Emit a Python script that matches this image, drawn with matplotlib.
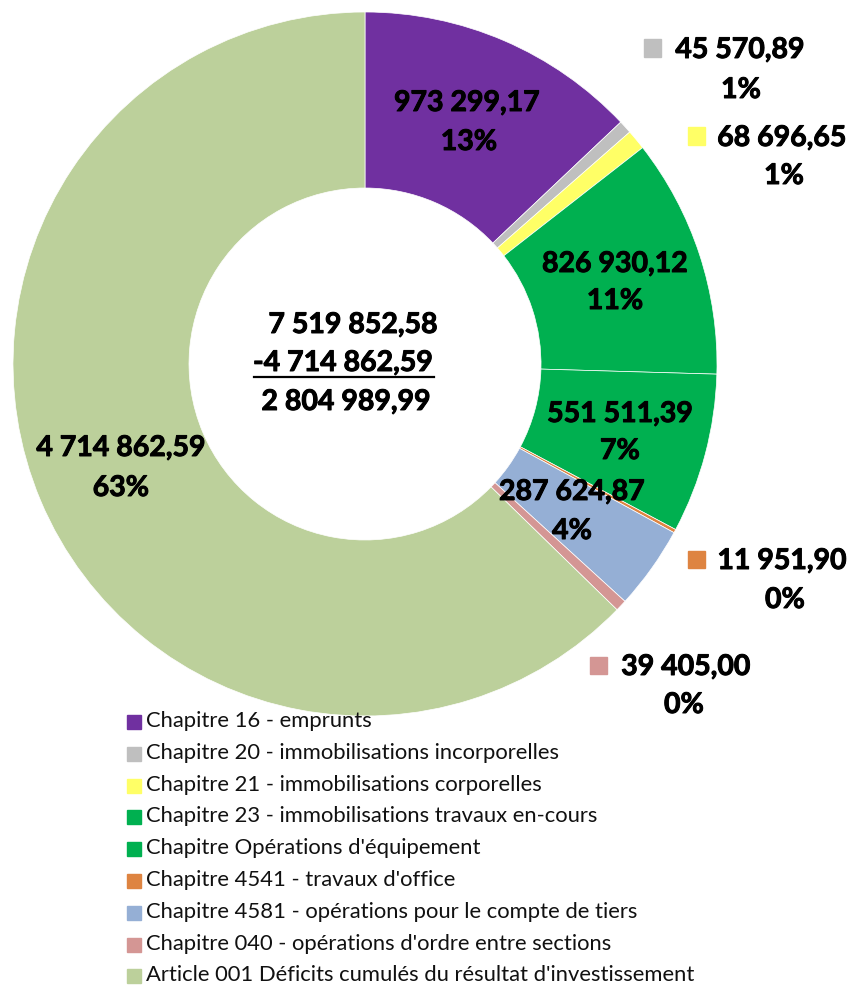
import matplotlib
matplotlib.use("Agg")
import matplotlib.pyplot as plt
import matplotlib.patheffects as pe
from matplotlib.patches import Rectangle

# data
categories = [
    "Chapitre 16 - emprunts",
    "Chapitre 20 - immobilisations incorporelles",
    "Chapitre 21 - immobilisations corporelles",
    "Chapitre 23 - immobilisations travaux en-cours",
    "Chapitre Opérations d'équipement",
    "Chapitre 4541 - travaux d'office",
    "Chapitre 4581 - opérations pour le compte de tiers",
    "Chapitre 040 - opérations d'ordre entre sections",
    "Article 001 Déficits cumulés du résultat d'investissement",
]
values = [973299.17, 45570.89, 68696.65, 826930.12, 551511.39,
          11951.90, 287624.87, 39405.00, 4714862.59]
value_labels = ["973 299,17", "45 570,89", "68 696,65", "826 930,12", "551 511,39",
                "11 951,90", "287 624,87", "39 405,00", "4 714 862,59"]
pct_labels = ["13%", "1%", "1%", "11%", "7%", "0%", "4%", "0%", "63%"]
colors = ["#7030A0", "#BFBFBF", "#FFFF66", "#00B050", "#00B050",
          "#DE8441", "#95AFD5", "#D49694", "#BCD09B"]
center_lines = ["7 519 852,58", "-4 714 862,59", "2 804 989,99"]

W, H = 854, 986
fig = plt.figure(figsize=(W / 100, H / 100), dpi=100)
fig.patch.set_facecolor("white")

def fx(x):
    return x / W

def fy(y):
    return 1 - y / H

# donut: centre (365, 364), outer radius 352
cx, cy, r = 365, 364, 352
ax = fig.add_axes([fx(cx - r), fy(cy + r), 2 * r / W, 2 * r / H])
wedges, _ = ax.pie(values, colors=colors, startangle=90, counterclock=False,
                   radius=1, wedgeprops=dict(width=0.5, linewidth=0.5, edgecolor="white"))
ax.set_xlim(-1, 1)
ax.set_ylim(-1, 1)
ax.set_aspect("equal")
ax.axis("off")

font = "Lato"
thick = [pe.withStroke(linewidth=0.7, foreground="black")]
lbl = dict(fontsize=20.5, fontweight="bold", family=font, ha="center", va="center",
           color="black", path_effects=thick)

# label centres in pixels (value line, percent line)
pos = [((467, 103), (469, 142)),
       ((740, 50), (741, 90)),
       ((782, 138), (784, 176)),
       ((615, 264), (615, 301)),
       ((620, 414), (620, 451)),
       ((782, 561), (785, 600)),
       ((572, 492), (572, 531)),
       ((686, 667), (684, 705)),
       ((121, 448), (121, 488))]
markers = {1: (653, 48), 2: (697, 136), 5: (697, 559), 7: (598, 665)}

for i, ((vx, vy), (px, py)) in enumerate(pos):
    fig.text(fx(vx), fy(vy), value_labels[i], **lbl)
    fig.text(fx(px), fy(py), pct_labels[i], **lbl)
    if i in markers:
        mx, my = markers[i]
        fig.add_artist(Rectangle((fx(mx - 8.5), fy(my + 8.5)), 17 / W, 17 / H,
                                 transform=fig.transFigure, color=colors[i]))

# centre text
fig.text(fx(353), fy(325), center_lines[0], **lbl)
fig.text(fx(343), fy(363), center_lines[1], **lbl)
fig.text(fx(346), fy(402), center_lines[2], **lbl)
fig.add_artist(plt.Line2D([fx(254), fx(434)], [fy(377), fy(377)],
                          transform=fig.transFigure, color="black", linewidth=1.6))

# legend
for i, name in enumerate(categories):
    y = 722 + i * 31.8
    fig.add_artist(Rectangle((fx(127), fy(y + 7)), 14 / W, 14 / H,
                             transform=fig.transFigure, color=colors[i]))
    fig.text(fx(146), fy(y - 1), name, fontsize=15.8, family=font, ha="left", va="center",
             color="#111111")

fig.savefig("out.png", dpi=100)
